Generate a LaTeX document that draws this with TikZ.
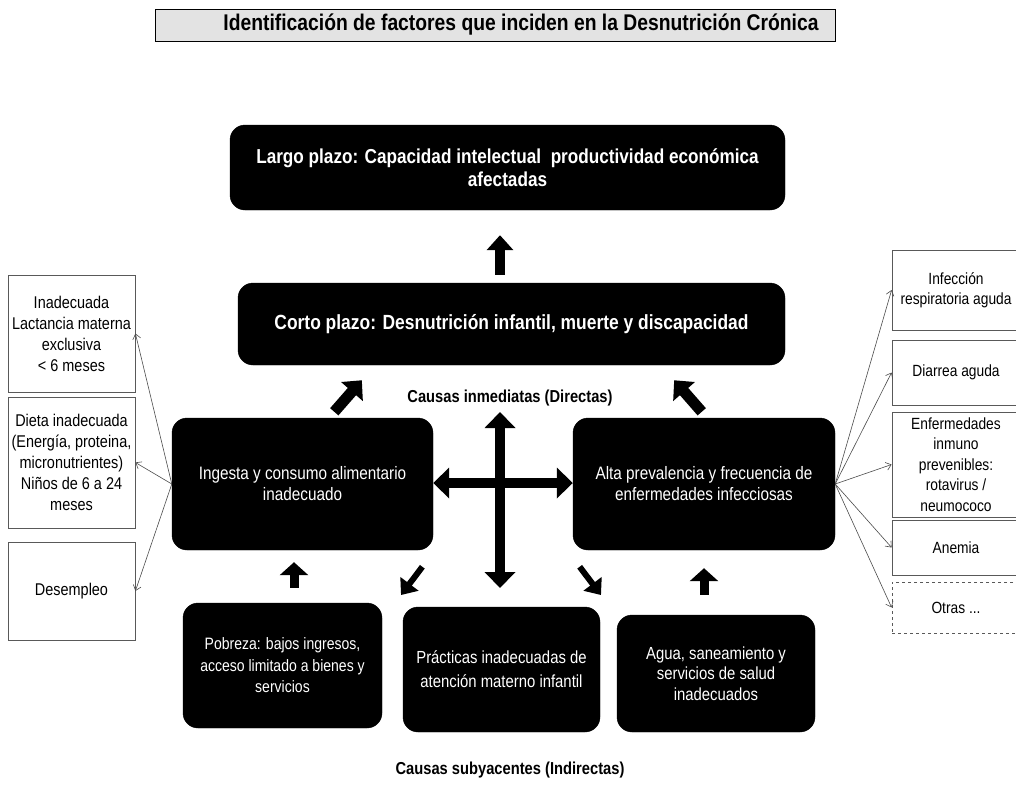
\documentclass[tikz,border=0pt]{standalone}
\usepackage{fontspec}
\setmainfont{Liberation Sans}[FakeStretch=0.85]
\usetikzlibrary{arrows.meta,calc}
\begin{document}
\begin{tikzpicture}[x=1pt,y=-1pt,
  blk/.style={draw=black, fill=black, rounded corners=15pt, text=white, align=center, inner sep=4pt},
  side/.style={draw=black!65, line width=0.8pt, align=center, font=\fontsize{17}{21}\selectfont, inner sep=2pt},
  rside/.style={draw=black!65, line width=0.8pt, align=center, font=\fontsize{16.2}{20.5}\selectfont, inner sep=2pt},
  fat/.style={line width=10pt, -{Triangle[length=15pt,width=26pt]}},
  fatd/.style={line width=11pt, -{Triangle[length=15pt,width=28pt]}},
  fats/.style={line width=9pt, -{Triangle[length=13pt,width=28pt]}},
  fatss/.style={line width=6pt, -{Triangle[length=14pt,width=22pt]}},
  cross/.style={line width=10pt, {Triangle[length=16pt,width=30pt]}-{Triangle[length=16pt,width=30pt]}},
  thinarr/.style={draw=black!70, line width=0.6pt, -{Straight Barb[length=5pt,width=8pt]}},
  lbl/.style={font=\bfseries\fontsize{17.3}{20}\selectfont}]
\useasboundingbox (0,0) rectangle (1016,801);
\clip (0,0) rectangle (1016,801);
\fill[white] (0,0) rectangle (1016,801);

% title
\node[draw=black, line width=0.8pt, fill=gray!22, minimum width=680pt, minimum height=32pt,
  font=\bfseries\fontsize{22.7}{26}\selectfont] (title) at (495,25)
  {\hspace*{52pt}Identificación de factores que inciden en la Desnutrición Crónica};

% main black boxes
\node[blk, minimum width=555pt, minimum height=85pt, font=\bfseries\fontsize{20.2}{23}\selectfont]
  (largo) at (507.5,167.5) {Largo plazo: Capacidad intelectual \ productividad económica\\afectadas};
\node[blk, minimum width=547pt, minimum height=82pt, font=\bfseries\fontsize{20.5}{23}\selectfont]
  (corto) at (511.5,324) {Corto plazo: Desnutrición infantil, muerte y discapacidad};

\node[lbl] (inmed) at (510,398) {Causas inmediatas (Directas)};

\node[blk, minimum width=261pt, minimum height=132pt, font=\fontsize{18}{21}\selectfont]
  (leftmid) at (302.5,484) {Ingesta y consumo alimentario\\inadecuado};
\node[blk, minimum width=262pt, minimum height=132pt, font=\fontsize{18}{21}\selectfont]
  (rightmid) at (704,484) {Alta prevalencia y frecuencia de\\enfermedades infecciosas};

\node[blk, minimum width=199pt, minimum height=125pt, font=\fontsize{16.5}{21.5}\selectfont]
  (botleft) at (282.5,665.5) {Pobreza: bajos ingresos,\\acceso limitado a bienes y\\servicios};
\node[blk, minimum width=197pt, minimum height=125pt, font=\fontsize{17.5}{24}\selectfont]
  (botmid) at (501.5,669.5) {Prácticas inadecuadas de\\atención materno infantil};
\node[blk, minimum width=198pt, minimum height=117pt, font=\fontsize{17.5}{20.5}\selectfont]
  (botright) at (716,673.5) {Agua, saneamiento y\\servicios de salud\\inadecuados};

\node[lbl] (subya) at (510,770) {Causas subyacentes (Indirectas)};

% left boxes
\node[side, minimum width=127pt, minimum height=117pt] (L1) at (71.5,333.5)
  {Inadecuada\\Lactancia materna\\exclusiva\\< 6 meses};
\node[side, minimum width=127pt, minimum height=131pt] (L2) at (71.5,462.5)
  {Dieta inadecuada\\(Energía, proteina,\\micronutrientes)\\Niños de 6 a 24\\meses};
\node[side, minimum width=127pt, minimum height=98pt] (L3) at (71.5,591)
  {Desempleo};

% right boxes
\node[rside, minimum width=128pt, minimum height=80pt] (R1) at (956,290)
  {Infección\\respiratoria aguda};
\node[rside, minimum width=128pt, minimum height=65pt] (R2) at (956,372.5)
  {Diarrea aguda};
\node[rside, minimum width=128pt, minimum height=105pt] (R3) at (956,464.5)
  {Enfermedades\\inmuno\\prevenibles:\\rotavirus /\\neumococo};
\node[rside, minimum width=128pt, minimum height=55pt] (R4) at (956,547.5)
  {Anemia};
\node[rside, dashed, minimum width=128pt, minimum height=51pt] (R5) at (956,607.5)
  {Otras ...};

% block arrows
\draw[fat, shorten <=8pt, shorten >=25pt] (corto.north -| 500,0) -- (largo.south -| 500,0);
\draw[fatd, shorten <=8pt, shorten >=20pt] (leftmid.north -| 329,0) -- (corto.south -| 375,0);
\draw[fatd, shorten <=8pt, shorten >=20pt] (rightmid.north -| 707,0) -- (corto.south -| 661,0);

\draw[cross] (leftmid.east |- 0,483) -- (rightmid.west |- 0,483);
\coordinate (vtop) at (500,412);
\coordinate (vbot) at (500,588);
\draw[cross] (vbot) -- (vtop);

\draw[fats, shorten <=15pt, shorten >=12pt] (botleft.north -| 294,0) -- (leftmid.south -| 294,0);
\draw[fats, shorten <=20pt, shorten >=18pt] (botright.north -| 704,0) -- (rightmid.south -| 704,0);

\coordinate (dla) at (435,550);
\coordinate (dlb) at (395,603);
\coordinate (dra) at (567,550);
\coordinate (drb) at (607,603);
\draw[fatss, shorten <=21pt, shorten >=10pt] (dla) -- (dlb);
\draw[fatss, shorten <=21pt, shorten >=10pt] (dra) -- (drb);

% thin arrows
\foreach \n in {L1,L2,L3} \draw[thinarr] (leftmid.west) -- (\n.east);
\foreach \n in {R1,R2,R3,R4,R5} \draw[thinarr] (rightmid.east) -- (\n.west);
\end{tikzpicture}
\end{document}
